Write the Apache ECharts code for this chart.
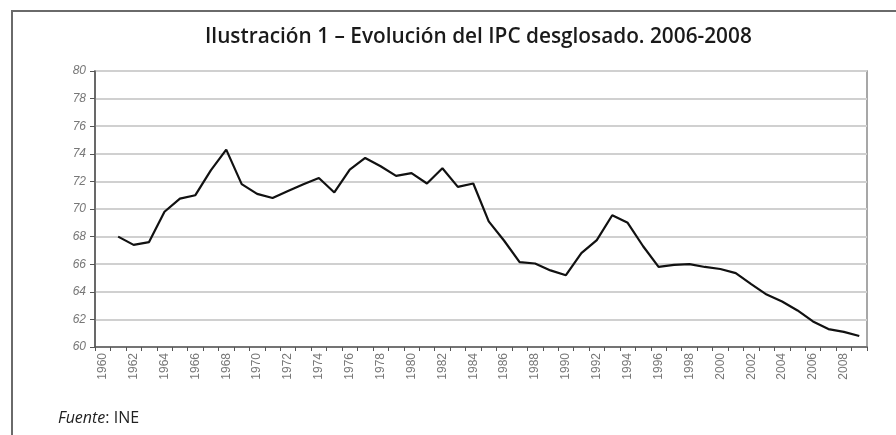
<!DOCTYPE html>
<html>
<head>
<meta charset="utf-8">
<script src="https://cdn.jsdelivr.net/npm/echarts@6/dist/echarts.min.js"></script>
<style>
  html, body { margin: 0; padding: 0; background: #fff; }
  #chart { width: 896px; height: 435px; }
</style>
</head>
<body>
<div id="chart"></div>
<script>
// años del eje X (1960-2009)
var years = [];
for (var y = 1960; y <= 2009; y++) years.push(String(y));

// valores (1960 sin dato)
var ipcValues = [
    null, 68.0, 67.4, 67.6, 69.8, 70.75, 71.0, 72.8, 74.3, 71.8,
    71.1, 70.8, 71.3, 71.8, 72.25, 71.2, 72.85, 73.7, 73.1, 72.4,
    72.6, 71.85, 72.95, 71.6, 71.85, 69.1, 67.7, 66.15, 66.05, 65.55,
    65.2, 66.8, 67.75, 69.55, 69.0, 67.3, 65.8, 65.95, 66.0, 65.8,
    65.65, 65.35, 64.55, 63.8, 63.3, 62.65, 61.85, 61.3, 61.1, 60.8
];

var yTicks = { min: 60, max: 80, step: 2 };

var titleText = 'Ilustración 1 – Evolución del IPC desglosado. 2006-2008';

var myChart = echarts.init(document.getElementById('chart'));

var option = {
    animation: false,
    backgroundColor: '#fff',
    title: {
        text: titleText,
        left: 200,
        top: 22,
        textStyle: {
            fontFamily: 'Open Sans',
            fontWeight: 600,
            fontSize: 20.8,
            color: '#1a1a1a'
        }
    },
    graphic: [
        // marco exterior (solo lados superior e izquierdo)
        {
            type: 'polyline',
            shape: { points: [[12, 435], [12, 11], [896, 11]] },
            style: { stroke: '#6a6a6a', lineWidth: 2, fill: null }
        },
        {
            type: 'text',
            left: 58,
            top: 410,
            style: {
                text: '{i|Fuente}: INE',
                rich: {
                    i: { fontStyle: 'italic', fontFamily: 'Open Sans', fontSize: 16, fill: '#222' }
                },
                fontFamily: 'Open Sans',
                fontSize: 16,
                fill: '#222'
            }
        }
    ],
    grid: {
        left: 95,
        right: 29,
        top: 71,
        bottom: 88,
        show: true,
        borderColor: '#8a8a8a',
        borderWidth: 1.5
    },
    xAxis: {
        type: 'category',
        data: years,
        boundaryGap: true,
        axisLine: { lineStyle: { color: '#555', width: 1.5 } },
        axisTick: { show: true, interval: 0, length: 4, lineStyle: { color: '#555' } },
        axisLabel: {
            interval: 1,
            rotate: 90,
            color: '#777',
            fontFamily: 'Liberation Sans',
            fontSize: 12,
            margin: 6
        },
        splitLine: { show: false }
    },
    yAxis: {
        type: 'value',
        min: yTicks.min,
        max: yTicks.max,
        interval: yTicks.step,
        axisLine: { show: true, lineStyle: { color: '#555', width: 1.5 } },
        axisTick: { show: true, length: 5, lineStyle: { color: '#555' } },
        axisLabel: {
            color: '#777',
            fontStyle: 'italic',
            fontFamily: 'Liberation Sans',
            fontSize: 12,
            margin: 9
        },
        splitLine: { lineStyle: { color: '#d0d0d0', width: 2 } }
    },
    series: [
        {
            name: 'IPC',
            type: 'line',
            data: ipcValues,
            showSymbol: false,
            connectNulls: false,
            lineStyle: { color: '#111', width: 2.2 },
            itemStyle: { color: '#111' }
        }
    ]
};

myChart.setOption(option);
</script>
</body>
</html>
